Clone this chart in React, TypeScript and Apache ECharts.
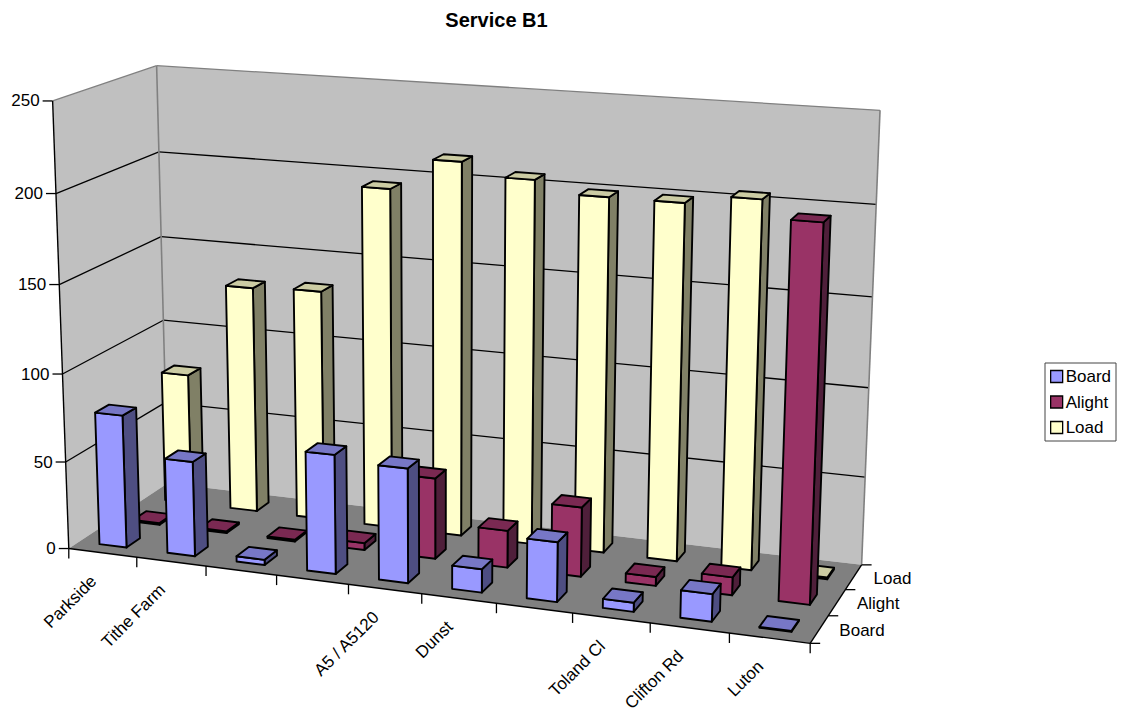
import React, { useEffect, useRef } from "react";
import * as echarts from "echarts";

const categories = ["Parkside", "Tithe Farm", "", "", "A5 / A5120", "Dunst", "", "Toland Cl", "Clifton Rd", "Luton"];
const rows = ["Board", "Alight", "Load"];
const board = [76, 54, 3, 67, 64, 13, 33, 5, 15, 0.5];
const alight = [1, 1, 1, 4, 46, 21, 39, 5, 10, 204];
const load = [77, 132, 133.5, 195, 213, 206, 199.5, 199.5, 204.5, 1];
const valueTicks = [0, 50, 100, 150, 200, 250];

const frontColors = ["#9999FF", "#993366", "#FFFFCC"];
const topColors = ["#7777C6", "#7A2952", "#CCCCA3"];
const sideColors = ["#4E4E82", "#4F1F3A", "#808066"];

const FONT = '"Liberation Sans", Arial, sans-serif';
const PLOT = { left: 0, top: 0, width: 1000, height: 600 };
const BAR_RATIO = 0.4;

// Known corners of the box: [across, depth, height] -> screen position.
const anchors: number[][] = [
  [0, 0, 0, 70, 548],
  [1, 0, 0, 810, 644],
  [0, 1, 0, 166, 484],
  [1, 1, 0, 862, 564],
  [0, 0, 1, 51.5, 100.7],
  [0, 1, 1, 157, 66],
  [1, 1, 1, 880, 110],
  [0, 1, 0.8, 159.5, 151.5],
  [0, 1, 0.6, 161.7, 236.7],
  [0, 0, 0.8, 56, 193.7],
  [1, 1, 0.8, 876, 205],
];

// Least-squares fit of the 3D-to-screen perspective matrix.
function fitCamera(points: number[][]): number[] {
  const n = 11;
  const A = Array.from({ length: n }, () => new Array(n + 1).fill(0));
  const add = (row: number[], rhs: number) => {
    for (let i = 0; i < n; i++) {
      for (let j = 0; j < n; j++) A[i][j] += row[i] * row[j];
      A[i][n] += row[i] * rhs;
    }
  };
  for (const [u, v, w, x, y] of points) {
    add([u, v, w, 1, 0, 0, 0, 0, -x * u, -x * v, -x * w], x);
    add([0, 0, 0, 0, u, v, w, 1, -y * u, -y * v, -y * w], y);
  }
  for (let c = 0; c < n; c++) {
    let p = c;
    for (let r = c + 1; r < n; r++) if (Math.abs(A[r][c]) > Math.abs(A[p][c])) p = r;
    [A[c], A[p]] = [A[p], A[c]];
    for (let r = 0; r < n; r++) {
      if (r === c) continue;
      const f = A[r][c] / A[c][c];
      for (let k = c; k <= n; k++) A[r][k] -= f * A[c][k];
    }
  }
  return A.map((row, i) => row[n] / row[i]);
}

const M = fitCamera(anchors);
const project = (u: number, v: number, w: number): number[] => {
  const d = M[8] * u + M[9] * v + M[10] * w + 1;
  return [(M[0] * u + M[1] * v + M[2] * w + M[3]) / d, (M[4] * u + M[5] * v + M[6] * w + M[7]) / d];
};

// Pixel position inside the hidden grid -> unit coordinates of the box.
const toUnitX = (px: number) => (px - PLOT.left) / PLOT.width;
const toUnitW = (py: number) => (PLOT.top + PLOT.height - py) / PLOT.height;

const poly = (points: number[][], fill: string, stroke: string, lineWidth = 1.9) => ({
  type: "polygon",
  shape: { points },
  style: { fill, stroke, lineWidth, lineJoin: "round" },
});
const seg = (a: number[], b: number[], stroke: string, lineWidth = 1.3) => ({
  type: "line",
  shape: { x1: a[0], y1: a[1], x2: b[0], y2: b[1] },
  style: { stroke, lineWidth, fill: "none" },
});
const label = (text: string, x: number, y: number, align: string, rotation = 0) => ({
  type: "text",
  x,
  y,
  rotation,
  style: { text, fill: "#000", font: `17px ${FONT}`, align, verticalAlign: "middle" },
});

const barSeries = (rowIndex: number, values: number[]) => ({
  type: "custom",
  name: rows[rowIndex],
  xAxisIndex: 0,
  yAxisIndex: 0,
  encode: { x: 0, y: 1 },
  itemStyle: { color: frontColors[rowIndex] },
  data: values.map((v, i) => [i, v]),
  renderItem: (_: unknown, api: any) => {
    const c = api.coord([api.value(0), api.value(1)]);
    const band = toUnitX(api.size([1, 0])[0] + PLOT.left);
    const half = (band * BAR_RATIO) / 2;
    const u = toUnitX(c[0]);
    const h = toUnitW(c[1]);
    const u0 = u - half;
    const u1 = u + half;
    const cv = (rowIndex + 0.5) / rows.length;
    const dv = BAR_RATIO / rows.length / 2;
    const v0 = cv - dv;
    const v1 = cv + dv;
    const front = [project(u0, v0, 0), project(u1, v0, 0), project(u1, v0, h), project(u0, v0, h)];
    const side = [project(u1, v0, 0), project(u1, v1, 0), project(u1, v1, h), project(u1, v0, h)];
    const top = [project(u0, v0, h), project(u1, v0, h), project(u1, v1, h), project(u0, v1, h)];
    return {
      type: "group",
      children: [
        poly(side, sideColors[rowIndex], "#000"),
        poly(front, frontColors[rowIndex], "#000"),
        poly(top, topColors[rowIndex], "#000"),
      ],
    };
  },
});

// Walls, floor, gridlines, ticks and axis labels of the box.
const frameSeries = {
  type: "custom",
  name: "frame",
  xAxisIndex: 0,
  yAxisIndex: 0,
  encode: { x: 0, y: 1 },
  silent: true,
  data: [[0, 0]],
  renderItem: (_: unknown, api: any) => {
    const GREY = "#808080";
    const children: any[] = [
      poly([project(0, 0, 0), project(0, 1, 0), project(0, 1, 1), project(0, 0, 1)], "#C0C0C0", "none", 0),
      poly([project(0, 1, 0), project(1, 1, 0), project(1, 1, 1), project(0, 1, 1)], "#C0C0C0", "none", 0),
      poly([project(0, 0, 0), project(1, 0, 0), project(1, 1, 0), project(0, 1, 0)], "#808080", "none", 0),
    ];
    const yUnit = (t: number) => toUnitW(api.coord([0, t])[1]);
    valueTicks.forEach((t) => {
      const w = yUnit(t);
      const a = project(0, 0, w);
      const b = project(0, 1, w);
      const d = project(1, 1, w);
      if (t > 0) {
        const color = t === valueTicks[valueTicks.length - 1] ? GREY : "#000";
        children.push(seg(a, b, color), seg(b, d, color));
      }
      children.push(seg([a[0] - 10, a[1]], a, "#000"));
      children.push(label(String(t), a[0] - 13, a[1], "right"));
    });
    children.push(seg(project(0, 1, 0), project(0, 1, 1), GREY, 1.6));
    children.push(seg(project(1, 1, 0), project(1, 1, 1), GREY, 1.6));
    children.push(seg(project(0, 0, 0), project(0, 0, 1), "#000", 1.4));
    children.push(seg(project(0, 0, 0), project(1, 0, 0), "#000", 1.4));
    children.push(seg(project(1, 0, 0), project(1, 1, 0), "#000", 1.4));

    categories.forEach((name, i) => {
      const edge = project((i + 1) / categories.length, 0, 0);
      if (i === 0) {
        const o = project(0, 0, 0);
        children.push(seg(o, [o[0], o[1] + 10], "#000"));
      }
      children.push(seg(edge, [edge[0], edge[1] + 10], "#000"));
      if (name) {
        const mid = project(toUnitX(api.coord([i, 0])[0]), 0, 0);
        children.push(label(name, mid[0] - 9, mid[1] + 25.5, "right", Math.PI / 4));
      }
    });
    for (let r = 0; r <= rows.length; r++) {
      const p = project(1, r / rows.length, 0);
      children.push(seg(p, [p[0] + 10, p[1]], "#000"));
    }
    rows.forEach((name, r) => {
      const p = project(1, (r + 0.5) / rows.length, 0);
      children.push(label(name, p[0] + 20, p[1] + 1, "left"));
    });
    return { type: "group", children };
  },
};

export default function App() {
  const ref = useRef<HTMLDivElement>(null);
  useEffect(() => {
    const chart = echarts.init(ref.current!, undefined, { renderer: "svg" });
    chart.setOption({
      animation: false,
      backgroundColor: "#fff",
      title: {
        text: "Service B1",
        left: 491.5,
        top: 5,
        textAlign: "center",
        textStyle: { fontFamily: FONT, fontSize: 20, fontWeight: "bold", color: "#000" },
      },
      legend: {
        orient: "vertical",
        left: 1045,
        top: 363,
        padding: [5, 5, 5, 5],
        itemGap: 8.5,
        itemWidth: 12,
        itemHeight: 12,
        borderColor: "#444",
        borderWidth: 1,
        textStyle: { fontFamily: FONT, fontSize: 17, color: "#000", padding: [0, 0, 0, -2] },
        data: rows.map((name, i) => ({
          name,
          icon: "rect",
          itemStyle: { color: frontColors[i], borderColor: "#000", borderWidth: 1.3 },
        })),
      },
      grid: { ...PLOT },
      xAxis: { type: "category", data: categories, show: false },
      yAxis: { type: "value", min: 0, max: 250, interval: 50, show: false },
      series: [frameSeries, barSeries(2, load), barSeries(1, alight), barSeries(0, board)],
    });
    return () => chart.dispose();
  }, []);
  return <div ref={ref} style={{ position: "absolute", left: 0, top: 0, width: 1128, height: 713 }} />;
}
